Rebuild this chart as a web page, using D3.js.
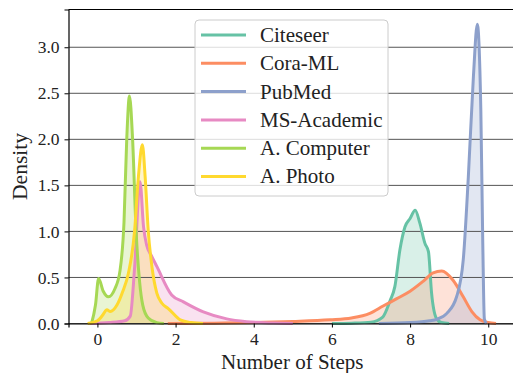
<!DOCTYPE html>
<html>
<head>
	<title>Number of steps density</title>
	<script src="https://d3js.org/d3.v7.min.js"></script>
	<style>
		body { margin: 0; background: white; }
		svg text { font-family: "Liberation Serif", "DejaVu Serif", serif; fill: #222; }
	</style>
</head>
<body>
<svg width="513" height="373"></svg>

<script type="text/javascript">
var width = 513, height = 373;
var margin = {top: 9.5, right: -3, bottom: 49.5, left: 68.5};
var serif = '"Liberation Serif", "DejaVu Serif", serif';

var names = ["Citeseer", "Cora-ML", "PubMed", "MS-Academic", "A. Computer", "A. Photo"];
var colors = ["#66c2a5", "#fc8d62", "#8da0cb", "#e78ac3", "#a6d854", "#ffd92f"];

var xTicks = [0, 2, 4, 6, 8, 10];
var yTicks = [0, 0.5, 1, 1.5, 2, 2.5, 3];

// density curves: [steps, density]
var citeseer = [[6.0,0],[6.5,0.004],[7.0,0.015],[7.3,0.07],[7.49,0.25],[7.61,0.4],[7.74,0.8],[7.87,1.05],[8.0,1.14],[8.13,1.23],[8.25,1.09],[8.38,0.87],[8.47,0.78],[8.55,0.33],[8.68,0.05],[8.8,0.01],[9.0,0]];
var coraml = [[1.8,0],[3.0,0.004],[4.0,0.01],[5.0,0.022],[5.95,0.04],[6.5,0.06],[6.97,0.11],[7.31,0.19],[7.66,0.27],[8.0,0.35],[8.34,0.46],[8.59,0.55],[8.81,0.57],[9.1,0.47],[9.36,0.29],[9.58,0.13],[9.79,0.04],[10.0,0.01],[10.2,0]];
var pubmed = [[7.2,0],[8.0,0.01],[8.5,0.03],[8.68,0.045],[8.94,0.11],[9.19,0.29],[9.36,0.69],[9.49,1.59],[9.62,2.68],[9.72,3.25],[9.81,2.32],[9.86,0.87],[9.9,0.05],[9.95,0]];
var msacademic = [[-0.2,0],[0.3,0.01],[0.7,0.03],[0.84,0.08],[0.95,0.6],[1.09,1.54],[1.18,1.05],[1.26,0.85],[1.39,0.73],[1.52,0.62],[1.9,0.31],[2.2,0.235],[2.71,0.126],[3.31,0.05],[3.82,0.02],[4.5,0.005],[5.0,0]];
var acomputer = [[-0.15,0],[-0.05,0.2],[0.03,0.49],[0.15,0.35],[0.28,0.29],[0.45,0.38],[0.58,0.58],[0.68,1.1],[0.75,2.0],[0.82,2.47],[0.9,2.0],[0.99,1.0],[1.08,0.45],[1.16,0.2],[1.3,0.06],[1.52,0.01],[1.7,0]];
var aphoto = [[-0.25,0],[0.0,0.03],[0.15,0.1],[0.24,0.15],[0.33,0.13],[0.5,0.2],[0.65,0.35],[0.79,0.54],[0.95,1.0],[1.05,1.6],[1.15,1.94],[1.22,1.6],[1.3,1.01],[1.4,0.6],[1.52,0.33],[1.65,0.22],[1.82,0.16],[2.12,0.04],[2.4,0.01],[2.7,0]];

var series = [citeseer, coraml, pubmed, msacademic, acomputer, aphoto];

var svg = d3.select('svg');

var x = d3.scaleLinear()
	.domain([-0.74, 10.71])
	.range([margin.left, width - margin.right]);

var y = d3.scaleLinear()
	.domain([0, 3.41])
	.range([height - margin.bottom, margin.top]);

var area = d3.area()
	.curve(d3.curveMonotoneX)
	.x(function(d) { return x(d[0]); })
	.y0(y(0))
	.y1(function(d) { return y(d[1]); });

var line = d3.line()
	.curve(d3.curveMonotoneX)
	.x(function(d) { return x(d[0]); })
	.y(function(d) { return y(d[1]); });

var plot = svg.append('g');

// fills first
plot.selectAll('path.fill')
	.data(series)
	.enter()
	.append('path')
	.attr('class', 'fill')
	.attr('d', area)
	.attr('fill', function(d, i) { return colors[i]; })
	.attr('fill-opacity', 0.25)
	.attr('stroke', 'none');

// gridlines sit above the fills, under the lines
plot.selectAll('line.grid')
	.data(yTicks)
	.enter()
	.append('line')
	.attr('class', 'grid')
	.attr('x1', margin.left)
	.attr('x2', width)
	.attr('y1', function(d) { return y(d); })
	.attr('y2', function(d) { return y(d); })
	.attr('stroke', '#555')
	.attr('stroke-width', 1);

plot.selectAll('path.curve')
	.data(series)
	.enter()
	.append('path')
	.attr('class', 'curve')
	.attr('d', line)
	.attr('fill', 'none')
	.attr('stroke', function(d, i) { return colors[i]; })
	.attr('stroke-width', 3)
	.attr('stroke-linejoin', 'round');

// axes
var xAxis = svg.append('g')
	.attr('transform', 'translate(0,' + y(0) + ')')
	.call(d3.axisBottom(x).tickValues(xTicks).tickSize(4).tickPadding(5).tickFormat(d3.format('d')));

var yAxis = svg.append('g')
	.attr('transform', 'translate(' + margin.left + ',0)')
	.call(d3.axisLeft(y).tickValues(yTicks).tickSize(4).tickPadding(5).tickFormat(d3.format('.1f')));

[xAxis, yAxis].forEach(function(a) {
	a.attr('font-family', serif);
	a.select('.domain').attr('stroke', '#000').attr('stroke-width', 1.2);
	a.selectAll('.tick line').attr('stroke', '#000').attr('stroke-width', 1);
	a.selectAll('.tick text').attr('font-family', serif).style('font-size', '17.5px').attr('fill', '#222');
});

// top spine
svg.append('line')
	.attr('x1', margin.left).attr('x2', width)
	.attr('y1', margin.top).attr('y2', margin.top)
	.attr('stroke', '#000').attr('stroke-width', 1.2);

svg.append('text')
	.attr('x', (margin.left + width - margin.right) / 2)
	.attr('y', 369)
	.attr('text-anchor', 'middle')
	.attr('font-family', serif)
	.style('font-size', '21px')
	.text('Number of Steps');

svg.append('text')
	.attr('transform', 'translate(27,' + (margin.top + y(0)) / 2 + ') rotate(-90)')
	.attr('text-anchor', 'middle')
	.attr('font-family', serif)
	.style('font-size', '21.5px')
	.text('Density');

// legend
var legend = svg.append('g').attr('transform', 'translate(195,20)');

legend.append('rect')
	.attr('width', 193)
	.attr('height', 176)
	.attr('rx', 4)
	.attr('fill', 'white')
	.attr('fill-opacity', 0.8)
	.attr('stroke', '#ccc')
	.attr('stroke-width', 1);

var rows = legend.selectAll('g.row')
	.data(names)
	.enter()
	.append('g')
	.attr('class', 'row')
	.attr('transform', function(d, i) { return 'translate(0,' + (15 + i * 28.3) + ')'; });

rows.append('line')
	.attr('x1', 6).attr('x2', 51)
	.attr('stroke', function(d, i) { return colors[i]; })
	.attr('stroke-width', 3);

rows.append('text')
	.attr('x', 65)
	.attr('dy', '0.33em')
	.attr('font-family', serif)
	.style('font-size', '21px')
	.text(function(d) { return d; });
</script>
</body>
</html>
